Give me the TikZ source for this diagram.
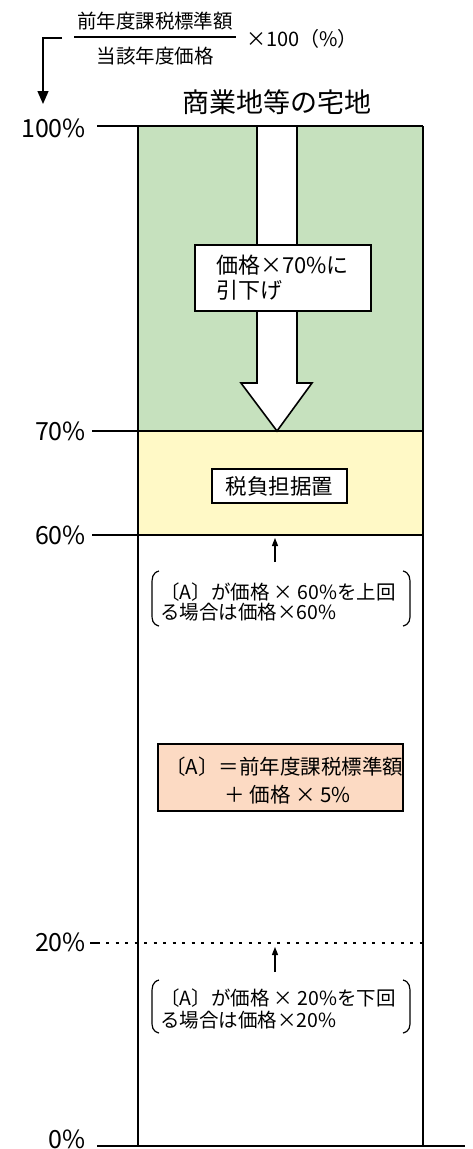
\documentclass[tikz,border=0pt]{standalone}
\usepackage{fontspec}
\setmainfont{Noto Sans CJK JP}
\usetikzlibrary{arrows.meta}
\definecolor{zgreen}{HTML}{C6E1BE}
\definecolor{zyellow}{HTML}{FFF9C6}
\definecolor{zorange}{HTML}{FCDAC3}
\begin{document}
\begin{tikzpicture}[x=1pt,y=-1pt,
  lbl/.style={anchor=east, font=\fontsize{25}{27}\selectfont, inner sep=0},
  frame/.style={line width=1.6pt},
  tbox/.style={draw, line width=1.5pt},
  txt/.style={inner sep=0, align=left, anchor=west},
  brk/.style={line width=1.2pt},
  uparrow/.style={-{Triangle[width=6pt,length=8pt]}, line width=1.1pt}
]
\useasboundingbox (0,0) rectangle (472,1149);
% fills
\fill[zgreen] (138,126) rectangle (423,431);
\fill[zyellow] (138,431) rectangle (423,535);
% level lines
\draw[frame] (97,126) -- (423,126);
\draw[frame] (92,431) -- (423,431);
\draw[frame] (92,535) -- (423,535);
\draw[frame] (90,943) -- (100,943);
\draw[line width=1.3pt, dash pattern=on 3pt off 6.5pt] (106,943) -- (423,943);
\draw[frame] (97,1146) -- (465,1146);
\draw[frame] (138,126) -- (138,1146);
\draw[frame] (423,126) -- (423,1146);
% percent labels
\node[lbl] (p100) at (86,128) {100\%};
\node[lbl] (p70) at (86,431) {70\%};
\node[lbl] (p60) at (86,535) {60\%};
\node[lbl] (p20) at (86,942) {20\%};
\node[lbl] (p0) at (86,1139) {0\%};
% formula
\node[font=\fontsize{19.5}{21}\selectfont, inner sep=0] (num) at (155,21) {前年度課税標準額};
\node[font=\fontsize{19.5}{21}\selectfont, inner sep=0] (den) at (155,56) {当該年度価格};
\draw[line width=1.2pt] (74,37) -- (236,37);
\node[txt, font=\fontsize{20}{22}\selectfont] (mul) at (246,39) {×100（\%）};
\coordinate (fs) at (62,38);
\coordinate (fc) at (43,38);
\coordinate (fe) at (43,104);
\draw[line width=1.3pt, -{Triangle[width=11pt,length=13pt]}] (fs) -- (fc) -- (fe);
% title
\node[font=\fontsize{27}{29}\selectfont, inner sep=0] (title) at (277,102) {商業地等の宅地};
% big arrow
\draw[frame, fill=white, line join=miter] (257,126) -- (297,126) -- (297,383) -- (312,383) -- (277,431) -- (241,383) -- (257,383) -- cycle;
% box 70
\node[tbox, fill=white, minimum width=176pt, minimum height=66pt] (b70) at (283,278) {};
\node[txt, font=\fontsize{22}{25}\selectfont] (t70) at (216,278) {価格×70\%に\\引下げ};
% box tax
\node[tbox, fill=white, minimum width=135pt, minimum height=34pt, font=\fontsize{21.5}{23}\selectfont] (tax) at (279.5,486) {税負担据置};
% note 60
\coordinate (a60s) at (275,562);
\coordinate (a60e) at (275,538);
\draw[uparrow] (a60s) -- (a60e);
\node[txt, font=\fontsize{19.5}{20.5}\selectfont] (n60) at (160,602) {〔A〕が価格 × 60\%を上回\\る場合は価格×60\%};
\draw[brk] (159,571) .. controls (152,573) and (152,578) .. (152,585) -- (152,613) .. controls (152,620) and (152,624) .. (159,626);
\draw[brk] (403,571) .. controls (410,573) and (410,578) .. (410,585) -- (410,613) .. controls (410,620) and (410,624) .. (403,626);
% orange box
\node[tbox, fill=zorange, minimum width=245pt, minimum height=67pt] (bA) at (280.5,777.5) {};
\node[txt, font=\fontsize{20.5}{28}\selectfont] (tA) at (165,781) {〔A〕＝前年度課税標準額\\\hspace*{2.9em}＋ 価格 × 5\%};
% note 20
\coordinate (a20s) at (275,972);
\coordinate (a20e) at (275,947);
\draw[uparrow] (a20s) -- (a20e);
\node[txt, font=\fontsize{19.5}{22}\selectfont] (n20) at (160,1009) {〔A〕が価格 × 20\%を下回\\る場合は価格×20\%};
\draw[brk] (159,980) .. controls (152,982) and (152,987) .. (152,994) -- (152,1020) .. controls (152,1027) and (152,1031) .. (159,1033);
\draw[brk] (403,980) .. controls (410,982) and (410,987) .. (410,994) -- (410,1020) .. controls (410,1027) and (410,1031) .. (403,1033);
\end{tikzpicture}
\end{document}
